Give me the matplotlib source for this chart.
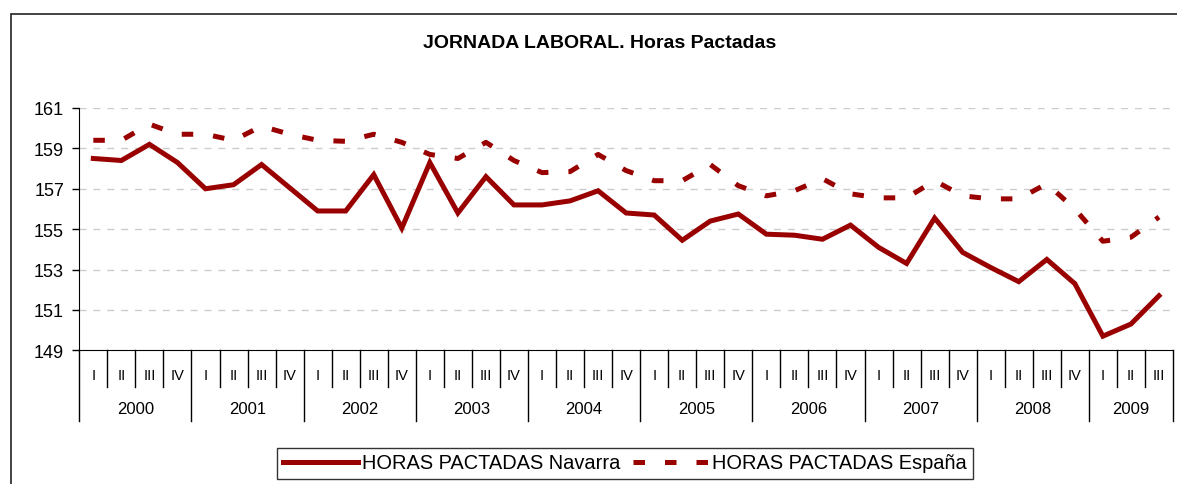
import matplotlib
import matplotlib.pyplot as plt
import matplotlib.transforms as mtransforms
from matplotlib.patches import Rectangle

matplotlib.use('Agg')

plt.rcParams['font.family'] = ['Liberation Sans', 'DejaVu Sans']

YEARS = ["2000", "2001", "2002", "2003", "2004", "2005", "2006", "2007", "2008", "2009"]
QUARTERS = ["I", "II", "III", "IV"]
N_POINTS = 39  # 2000 I .. 2009 III

navarra = [158.5, 158.4, 159.2, 158.3, 157.0, 157.2, 158.2, 157.05,
           155.9, 155.9, 157.7, 155.05, 158.3, 155.8, 157.6, 156.2,
           156.2, 156.4, 156.9, 155.8, 155.7, 154.45, 155.4, 155.75,
           154.75, 154.7, 154.5, 155.2, 154.1, 153.3, 155.55, 153.85,
           153.1, 152.4, 153.5, 152.3, 149.7, 150.3, 151.7]

espana = [159.4, 159.4, 160.2, 159.7, 159.7, 159.4, 160.1, 159.7,
          159.4, 159.35, 159.7, 159.3, 158.7, 158.5, 159.3, 158.4,
          157.8, 157.85, 158.7, 157.9, 157.4, 157.4, 158.2, 157.15,
          156.65, 156.9, 157.5, 156.75, 156.55, 156.55, 157.4, 156.65,
          156.5, 156.5, 157.25, 156.0, 154.4, 154.6, 155.6]

Y_TICKS = [149, 151, 153, 155, 157, 159, 161]

RED = "#990000"
GRID = "#cccccc"
W, H = 1177, 485

fig = plt.figure(figsize=(W / 100, H / 100), dpi=100, facecolor="white")

# outer chart border (left and top visible)
fig.patches.append(Rectangle((11 / W, -0.1), 1.2, 1.1 - 15 / H, transform=fig.transFigure,
                             fill=False, edgecolor="#222222", linewidth=1.2))

ax = fig.add_axes([79.3 / W, (H - 351.3) / H, (1173 - 79.3) / W, (351.3 - 109) / H])

x = list(range(N_POINTS))
ax.plot(x, navarra, color=RED, linewidth=3.6, solid_joinstyle='miter',
        label="HORAS PACTADAS Navarra")
ax.plot(x, espana, color=RED, linewidth=3.6, dashes=(2.3, 4.0), dash_capstyle='butt',
        label="HORAS PACTADAS España")

ax.set_xlim(-0.5, N_POINTS - 0.5)
ax.set_ylim(149, 161)
ax.set_yticks(Y_TICKS)
ax.set_yticklabels([str(t) for t in Y_TICKS], fontsize=13)
ax.tick_params(axis='y', length=5, width=1, direction='out', pad=6)
ax.set_xticks([])

for t in Y_TICKS[1:]:
    ax.axhline(t, color=GRID, linewidth=1, dashes=(5, 5), zorder=0)

for s in ['top', 'right']:
    ax.spines[s].set_visible(False)
ax.spines['left'].set_color("black")
ax.spines['bottom'].set_color("black")

# category axis: quarter row and year row
trans = mtransforms.blended_transform_factory(ax.transData, ax.transAxes)
px = 1 / (351.3 - 109)
q_bottom = -(388 - 351.3) * px
y_bottom = -(422 - 351.3) * px
for i in range(N_POINTS + 1):
    low = y_bottom if (i % 4 == 0 or i == N_POINTS) else q_bottom
    ax.plot([i - 0.5, i - 0.5], [0, low], color="black", linewidth=1,
            transform=trans, clip_on=False)
for i in range(N_POINTS):
    ax.text(i, -(376 - 351.3) * px, QUARTERS[i % 4], transform=trans,
            ha='center', va='center', fontsize=10.5)
for k, yr in enumerate(YEARS):
    start = 4 * k
    end = min(4 * k + 3, N_POINTS - 1)
    ax.text((start + end) / 2, -(410 - 351.3) * px, yr, transform=trans,
            ha='center', va='center', fontsize=12)

fig.text(600 / W, (H - 43) / H, "JORNADA LABORAL. Horas Pactadas",
         ha='center', va='center', fontsize=14, fontweight='bold')

leg = fig.legend(loc='center', bbox_to_anchor=(625 / W, (H - 464) / H), ncol=2,
                 fontsize=14.4, frameon=True, fancybox=False, edgecolor="black",
                 handlelength=3.75, handletextpad=0.2, columnspacing=0.6,
                 borderpad=0.3)
leg.get_frame().set_linewidth(1)

fig.savefig("out.png", dpi=100, facecolor="white")
